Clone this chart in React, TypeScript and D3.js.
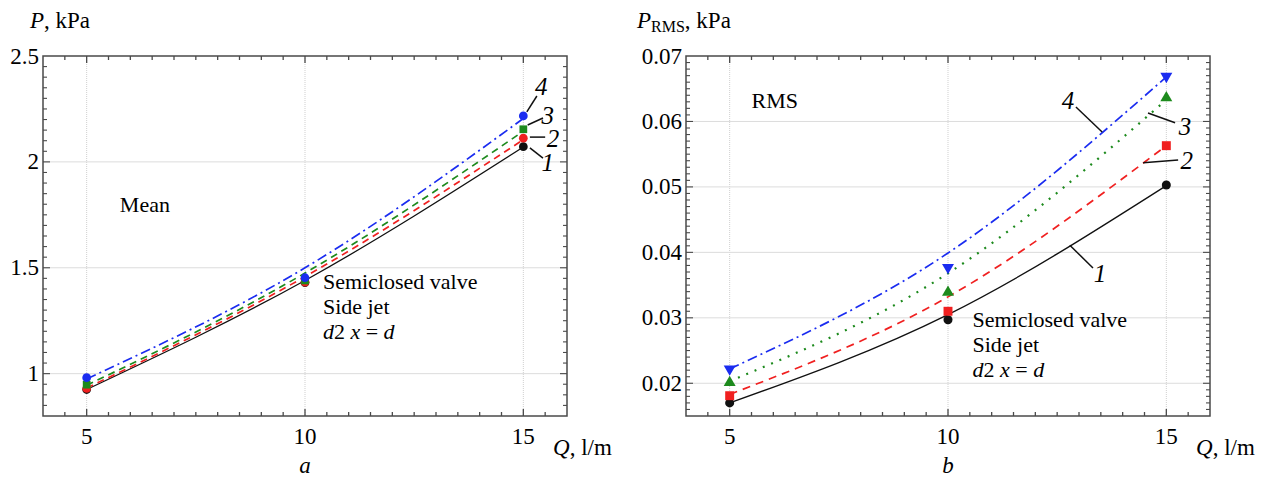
import React, { useEffect, useRef } from "react"
import * as d3 from "d3"

// flow rate, l/m
const qValues = [5, 10, 15]

// panel a: mean pressure, kPa (markers)
const mean1 = [0.925, 1.43, 2.072]
const mean2 = [0.93, 1.432, 2.112]
const mean3 = [0.948, 1.44, 2.154]
const mean4 = [0.981, 1.453, 2.217]
// panel a: fitted curves
const meanFit1 = [0.925, 1.44, 2.07]
const meanFit2 = [0.932, 1.458, 2.105]
const meanFit3 = [0.945, 1.475, 2.145]
const meanFit4 = [0.975, 1.5, 2.205]

// panel b: RMS pressure, kPa (markers)
const rms1 = [0.017, 0.0297, 0.0503]
const rms2 = [0.0181, 0.031, 0.0563]
const rms3 = [0.0201, 0.0339, 0.0636]
const rms4 = [0.0222, 0.0377, 0.0669]
// panel b: fitted curves
const rmsFit1 = [0.017, 0.0305, 0.0502]
const rmsFit2 = [0.0183, 0.0332, 0.0563]
const rmsFit3 = [0.0203, 0.0368, 0.0633]
const rmsFit4 = [0.0222, 0.0399, 0.0668]

const colors = ["#111111", "#f02020", "#1d8a1d", "#1a2cf0"]
const FONT = "Liberation Serif, Tinos, Times New Roman, Times, DejaVu Serif, serif"

type Panel = {
  left: number
  xDomain: [number, number]
  yDomain: [number, number]
  yMajor: number
  yMinor: number
  yFormat: (v: number) => string
  marks: number[][]
  fits: number[][]
  symbols: d3.SymbolType[]
  symbolSizes: number[]
  dashes: string[]
  title: string
  titleSub?: string
  titleX: number
  letter: string
  labels: { t: string; x: number; y: number; lx1: number; ly1: number; lx2: number; ly2: number }[]
  tag: { t: string; x: number; y: number }
  note: { x: number; y: number }
}

const panels: Panel[] = [
  {
    left: 43,
    xDomain: [4, 16],
    yDomain: [0.8, 2.5],
    yMajor: 0.5,
    yMinor: 0.05,
    yFormat: d3.format("~g"),
    marks: [mean1, mean2, mean3, mean4],
    fits: [meanFit1, meanFit2, meanFit3, meanFit4],
    symbols: [d3.symbolCircle, d3.symbolCircle, d3.symbolSquare, d3.symbolCircle],
    symbolSizes: [60, 60, 60, 60],
    dashes: ["none", "7,5", "7,5", "10,4,2,4"],
    title: "P",
    titleX: 30,
    letter: "a",
    labels: [
      { t: "1", x: 15.56, y: 2.0, lx1: 15.15, ly1: 2.066, lx2: 15.45, ly2: 2.018 },
      { t: "2", x: 15.68, y: 2.113, lx1: 15.15, ly1: 2.117, lx2: 15.5, ly2: 2.117 },
      { t: "3", x: 15.56, y: 2.221, lx1: 15.1, ly1: 2.174, lx2: 15.45, ly2: 2.207 },
      { t: "4", x: 15.41, y: 2.358, lx1: 15.08, ly1: 2.236, lx2: 15.31, ly2: 2.311 }
    ],
    tag: { t: "Mean", x: 5.76, y: 1.763 },
    note: { x: 10.41, y: 1.4 }
  },
  {
    left: 686,
    xDomain: [4, 16],
    yDomain: [0.015, 0.07],
    yMajor: 0.01,
    yMinor: 0.001,
    yFormat: d3.format(".2f"),
    marks: [rms1, rms2, rms3, rms4],
    fits: [rmsFit1, rmsFit2, rmsFit3, rmsFit4],
    symbols: [d3.symbolCircle, d3.symbolSquare, d3.symbolTriangle, d3.symbolTriangle],
    symbolSizes: [64, 80, 62, 62],
    dashes: ["none", "8,6", "2,7", "10,4,2,4"],
    title: "P",
    titleSub: "RMS",
    titleX: 637,
    letter: "b",
    labels: [
      { t: "1", x: 13.48, y: 0.0368, lx1: 12.79, ly1: 0.0411, lx2: 13.32, ly2: 0.0376 },
      { t: "2", x: 15.47, y: 0.0541, lx1: 14.47, ly1: 0.0537, lx2: 15.27, ly2: 0.0541 },
      { t: "3", x: 15.43, y: 0.0593, lx1: 14.58, ly1: 0.0613, lx2: 15.2, ly2: 0.0598 },
      { t: "4", x: 12.75, y: 0.0633, lx1: 12.93, ly1: 0.0622, lx2: 13.53, ly2: 0.0584 }
    ],
    tag: { t: "RMS", x: 5.5, y: 0.0621 },
    note: { x: 10.56, y: 0.0286 }
  }
]

const W = 524
const TOP = 56
const BOTTOM = 416

const App = () => {
  const ref = useRef<SVGSVGElement>(null)

  useEffect(() => {
    const svg = d3.select(ref.current)
    svg.selectAll("*").remove()

    panels.forEach((p) => {
      const x = d3.scaleLinear().domain(p.xDomain).range([p.left, p.left + W])
      const y = d3.scaleLinear().domain(p.yDomain).range([BOTTOM, TOP])
      const g = svg.append("g").style("font-family", FONT)
      const x0 = p.left, x1 = p.left + W

      // grid
      const xMajor = d3.range(5, p.xDomain[1], 5)
      const yMajor = d3.range(Math.ceil(p.yDomain[0] / p.yMajor - 1e-9), Math.floor(p.yDomain[1] / p.yMajor + 1e-9) + 1).map((k) => +(k * p.yMajor).toFixed(4))
      g.selectAll(".gx").data(xMajor).join("line")
        .attr("x1", (d) => x(d)).attr("x2", (d) => x(d)).attr("y1", TOP).attr("y2", BOTTOM)
        .attr("stroke", "#cfcfcf").attr("stroke-dasharray", "1,1")
      g.selectAll(".gy").data(yMajor.filter((v) => v < p.yDomain[1] - 1e-9)).join("line")
        .attr("x1", x0).attr("x2", x1).attr("y1", (d) => y(d)).attr("y2", (d) => y(d))
        .attr("stroke", "#dcdcdc")

      // fitted curves
      p.fits.forEach((f, i) => {
        const line = d3.line<number>().x((_, k) => x(qValues[k])).y((d) => y(d)).curve(d3.curveNatural)
        g.append("path").attr("d", line(f)).attr("fill", "none")
          .attr("stroke", colors[i]).attr("stroke-width", i === 0 ? 1.3 : (p.dashes[i] === "2,7" ? 2.2 : 1.7))
          .attr("stroke-dasharray", p.dashes[i])
          .attr("stroke-linecap", "butt")
      })

      // markers
      p.marks.forEach((m, i) => {
        const down = p.letter === "b" && i === 3
        g.selectAll(null).data(m).join("path")
          .attr("d", d3.symbol().type(p.symbols[i]).size(p.symbolSizes[i])())
          .attr("transform", (d, k) => `translate(${x(qValues[k])},${y(d)})${down ? " rotate(180)" : ""}`)
          .attr("fill", colors[i])
      })

      // frame
      g.append("rect").attr("x", x0).attr("y", TOP).attr("width", W).attr("height", BOTTOM - TOP)
        .attr("fill", "none").attr("stroke", "#4a4a4a").attr("stroke-width", 1.5)

      // ticks, inward on every side
      const xMinor = d3.range(p.xDomain[0] + 0.5, p.xDomain[1], 0.5)
      const isXMajor = (v: number) => Math.abs(v % 5) < 1e-9
      const nMinor = Math.round((p.yDomain[1] - p.yDomain[0]) / p.yMinor)
      const yMinor = d3.range(1, nMinor).map((k) => p.yDomain[0] + k * p.yMinor)
      const isYMajor = (v: number) => Math.abs(v / p.yMajor - Math.round(v / p.yMajor)) < 1e-6
      xMinor.forEach((v) => {
        const len = isXMajor(v) ? 7 : 4
        g.append("line").attr("x1", x(v)).attr("x2", x(v)).attr("y1", BOTTOM).attr("y2", BOTTOM - len).attr("stroke", "#4a4a4a").attr("stroke-width", 1.3)
        g.append("line").attr("x1", x(v)).attr("x2", x(v)).attr("y1", TOP).attr("y2", TOP + len).attr("stroke", "#4a4a4a").attr("stroke-width", 1.3)
      })
      yMinor.forEach((v) => {
        const len = isYMajor(v) ? 7 : 4
        g.append("line").attr("x1", x0).attr("x2", x0 + len).attr("y1", y(v)).attr("y2", y(v)).attr("stroke", "#4a4a4a").attr("stroke-width", 1.1)
        g.append("line").attr("x1", x1).attr("x2", x1 - len).attr("y1", y(v)).attr("y2", y(v)).attr("stroke", "#4a4a4a").attr("stroke-width", 1.1)
      })

      // tick labels
      g.selectAll(".xl").data(xMajor).join("text")
        .attr("x", (d) => x(d)).attr("y", BOTTOM + 28).attr("text-anchor", "middle")
        .attr("font-size", 23).text((d) => d)
      g.selectAll(".yl").data(yMajor).join("text")
        .attr("x", x0 - 4).attr("y", (d) => y(d)).attr("dy", "0.33em").attr("text-anchor", "end")
        .attr("font-size", 23).text((d) => p.yFormat(d))

      // axis titles
      const t = g.append("text").attr("x", p.titleX).attr("y", 28).attr("font-size", 23)
      t.append("tspan").attr("font-style", "italic").text(p.title)
      if (p.titleSub) t.append("tspan").attr("font-size", 16).attr("dy", 4).text(p.titleSub)
      t.append("tspan").attr("dy", p.titleSub ? -4 : 0).text(", kPa")

      const q = g.append("text").attr("x", x1 - 14).attr("y", 455).attr("font-size", 23)
      q.append("tspan").attr("font-style", "italic").text("Q")
      q.append("tspan").text(", l/m")

      g.append("text").attr("x", x(10)).attr("y", 473).attr("text-anchor", "middle")
        .attr("font-size", 23).attr("font-style", "italic").text(p.letter)

      // curve labels
      p.labels.forEach((l) => {
        g.append("line").attr("x1", x(l.lx1)).attr("y1", y(l.ly1)).attr("x2", x(l.lx2)).attr("y2", y(l.ly2))
          .attr("stroke", "#111").attr("stroke-width", 1.5)
        g.append("text").attr("x", x(l.x)).attr("y", y(l.y)).attr("dy", "0.35em").attr("text-anchor", "middle")
          .attr("font-size", 25).attr("font-style", "italic").text(l.t)
      })

      // annotations
      g.append("text").attr("x", x(p.tag.x)).attr("y", y(p.tag.y))
        .attr("font-size", 22).text(p.tag.t)
      const nx = x(p.note.x), ny = y(p.note.y)
      const n = g.append("text").attr("font-size", 22)
      n.append("tspan").attr("x", nx).attr("y", ny).text("Semiclosed valve")
      n.append("tspan").attr("x", nx).attr("y", ny + 25).text("Side jet")
      const n3 = n.append("tspan").attr("x", nx).attr("y", ny + 50)
      n3.append("tspan").attr("font-style", "italic").text("d")
      n3.append("tspan").text("2 ")
      n3.append("tspan").attr("font-style", "italic").text("x")
      n3.append("tspan").text(" = ")
      n3.append("tspan").attr("font-style", "italic").text("d")
    })
  }, [])

  return (
    <svg ref={ref} width={1272} height={477}
      style={{ position: "absolute", left: 0, top: 0, background: "#fff" }} />
  )
}

export default App
